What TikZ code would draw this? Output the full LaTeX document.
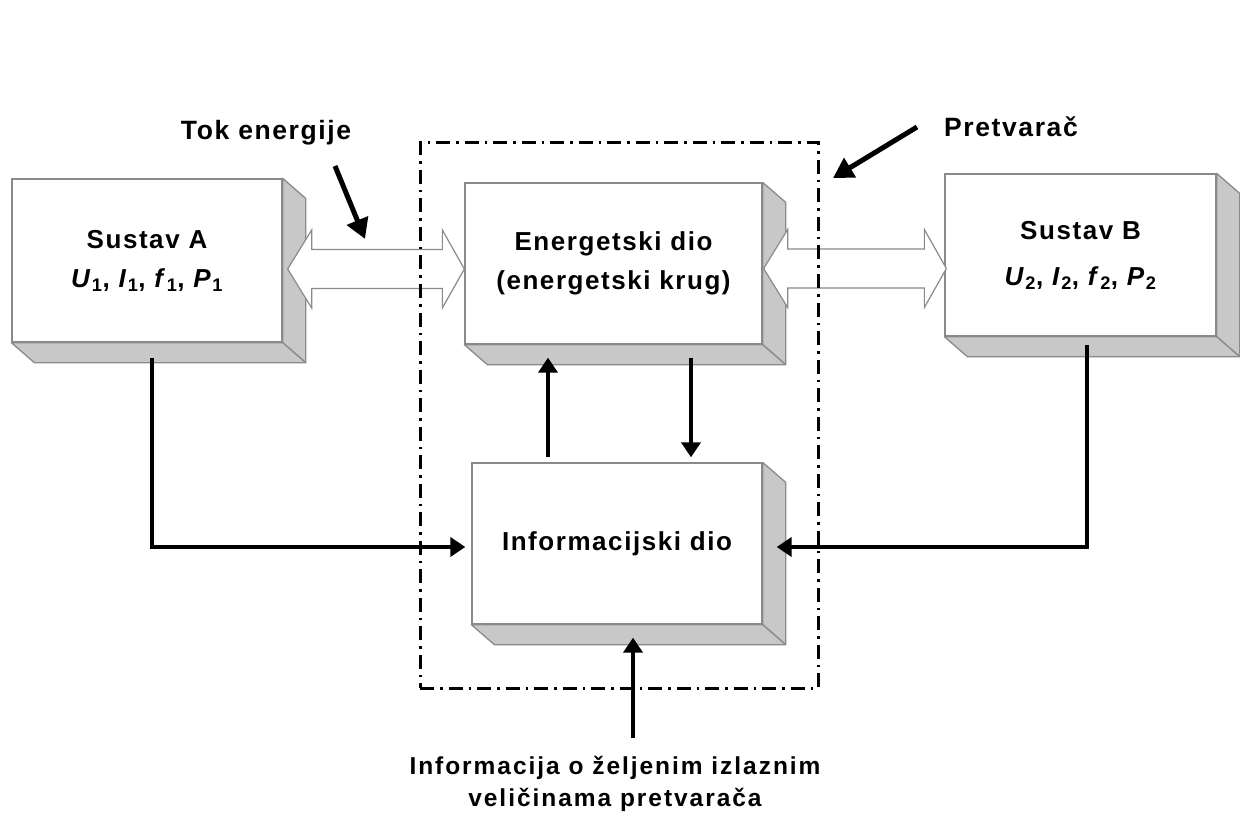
\documentclass[tikz,border=0pt]{standalone}
\usepackage{fontspec}
\setmainfont{Liberation Sans}
\newfontfamily\lblfam[LetterSpace=6]{Liberation Sans}
\newfontfamily\lblwide[LetterSpace=8]{Liberation Sans}
\usetikzlibrary{arrows.meta,calc}
\definecolor{edge}{HTML}{8A8A8A}
\definecolor{sidegray}{HTML}{C8C8C8}
\newcommand\lbl{\lblfam\bfseries\fontsize{26}{39}\selectfont}
\newcommand\lblsmall{\lblwide\bfseries\fontsize{24.5}{32}\selectfont}
\newcommand\lblbig{\lblfam\bfseries\fontsize{26.5}{30}\selectfont}
\newcommand\qv[2]{\textit{#1}\textsubscript{#2}}
\tikzset{
  box/.style={draw=edge, line width=1.3pt, fill=white, rectangle, align=center, inner sep=0pt, font=\lbl},
  sideface/.style={draw=edge, line width=1.3pt, fill=sidegray, line join=round},
  hollow/.style={draw=edge, line width=1.2pt, fill=white, line join=miter},
  frame/.style={draw=black, line width=3pt, dash pattern=on 14pt off 6pt on 2.5pt off 6pt, rectangle, inner sep=0pt},
  blk/.style={line width=4.5pt, -{Triangle[length=15pt,width=19pt]}},
  ptr/.style={line width=5pt, -{Triangle[length=20pt,width=22pt]}},
  lbl/.style={align=center, inner sep=0pt}
}
\newcommand\extrude[1]{%
  \filldraw[sideface] (#1.north east) -- ([shift={(23pt,-20pt)}]#1.north east) -- ([shift={(23pt,-20pt)}]#1.south east) -- (#1.south east) -- cycle;
  \filldraw[sideface] (#1.south west) -- (#1.south east) -- ([shift={(23pt,-20pt)}]#1.south east) -- ([shift={(23pt,-20pt)}]#1.south west) -- cycle;}
\newcommand\dblarrow[2]{%
  \filldraw[hollow] let \p1=(#1), \p2=(#2) in
  (\x1,\y1) -- (\x1+24pt,\y1+39pt) -- (\x1+24pt,\y1+19.5pt) -- (\x2-22pt,\y1+19.5pt) -- (\x2-22pt,\y1+39pt) -- (\x2,\y1)
  -- (\x2-22pt,\y1-39pt) -- (\x2-22pt,\y1-19.5pt) -- (\x1+24pt,\y1-19.5pt) -- (\x1+24pt,\y1-39pt) -- cycle;}
\begin{document}
\begin{tikzpicture}[x=1pt,y=-1pt]
\useasboundingbox[fill=white] (0,0) rectangle (1240,813);
% boxes
\node[box, minimum width=270pt, minimum height=163pt] (A) at (147,260.5)
  {Sustav A\\\qv{U}{1}, \qv{I}{1}, \qv{f}{1}, \qv{P}{1}};
\node[box, minimum width=297pt, minimum height=161pt] (E) at (613.5,263.5)
  {Energetski dio\\(energetski krug)};
\node[box, minimum width=271pt, minimum height=162pt] (B) at (1080.5,255)
  {Sustav B\\[7pt]\qv{U}{2}, \qv{I}{2}, \qv{f}{2}, \qv{P}{2}};
\node[box, minimum width=290pt, minimum height=161pt] (I) at (617,543.5)
  {Informacijski dio};
\extrude{A}
\extrude{E}
\extrude{B}
\extrude{I}
% energy flow arrows
\dblarrow{[xshift=5pt,yshift=-8.5pt]A.east}{E.west}
\dblarrow{[xshift=1pt,yshift=-5pt]E.east}{[xshift=2pt]B.west}
% converter frame
\node[frame, minimum width=398pt, minimum height=545pt] (P) at (619,415.5) {};
% labels
\node[lbl, font=\lblbig] (tok) at (266,133) {Tok energije};
\node[lbl, font=\lblbig] (pre) at (1011,127) {Pretvarač};
\node[lbl, font=\lblsmall] (info) at (615,784) {Informacija o željenim izlaznim\\veličinama pretvarača};
\coordinate (t1) at (335,166);
\coordinate (t2) at (365,239);
\coordinate (p1) at (917,127);
\coordinate (p2) at (833,178);
\coordinate (b0) at (633,738);
% signal arrows
\draw[blk] ([xshift=5pt,yshift=-15pt]A.south) |- ([xshift=-6pt,yshift=-3.5pt]I.west);
\draw[blk] ([xshift=6.5pt,yshift=-8pt]B.south) |- ([xshift=14pt,yshift=-3.5pt]I.east);
\draw[blk] ([xshift=-69pt,yshift=5pt]I.north) -- ([xshift=-65.5pt,yshift=-13pt]E.south);
\draw[blk] ([xshift=77.5pt,yshift=-13pt]E.south) -- ([xshift=74pt,yshift=5pt]I.north);
\draw[blk] (b0) -- ([xshift=16pt,yshift=-13pt]I.south);
\draw[ptr] (t1) -- (t2);
\draw[ptr] (p1) -- (p2);
\end{tikzpicture}
\end{document}
